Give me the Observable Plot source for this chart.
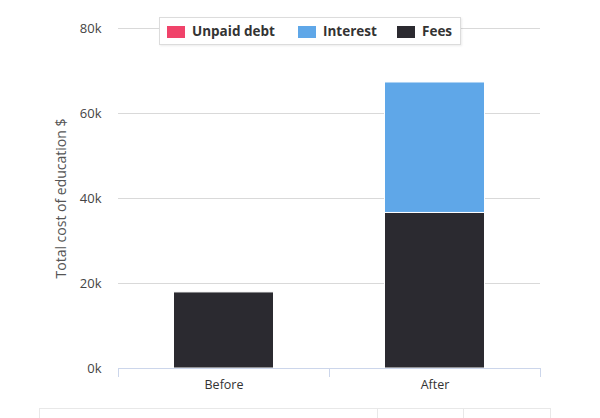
<!DOCTYPE html>
<html>
<head>
<meta charset="utf-8">
<script src="https://cdn.jsdelivr.net/npm/d3@7"></script>
<script src="https://cdn.jsdelivr.net/npm/@observablehq/plot@0.6"></script>
<style>
  html, body { margin: 0; padding: 0; background: #fff; }
  #wrap { position: relative; width: 600px; height: 418px; overflow: hidden; font-family: "Open Sans", sans-serif; }
  #legend { position: absolute; left: 159px; top: 17px; width: 302px; height: 28px; background: #fff;
    border: 1px solid #dcdcdc; box-shadow: 1px 1px 2px rgba(0,0,0,0.08); box-sizing: border-box;
    font-size: 13.5px; font-weight: bold; color: #333; }
  .sw { position: absolute; top: 8px; width: 18px; height: 12px; }
  .lt { position: absolute; top: 4px; line-height: 18px; white-space: nowrap; }
  #table { position: absolute; left: 39px; top: 408px; width: 512px; height: 20px; box-sizing: border-box;
    border-top: 1px solid #e8e8e8; border-left: 1px solid #e8e8e8; border-right: 1px solid #e8e8e8; display: flex; }
  #table div { box-sizing: border-box; height: 100%; }
</style>
</head>
<body>
<div id="wrap">
  <div id="chart"></div>
  <div id="legend"></div>
  <div id="table"><div style="width:338px;border-right:1px solid #e8e8e8"></div><div style="width:86px;border-right:1px solid #e8e8e8"></div><div style="flex:1"></div></div>
</div>
<script>
const categories = ["Before", "After"];
const series = ["Unpaid debt", "Interest", "Fees"];
const colors = ["#f0436a", "#5fa7e8", "#2b2a30"];
const fees = [17900, 36600];
const interest = [0, 30700];
const unpaidDebt = [0, 0];
const yTicks = [0, 20000, 40000, 60000, 80000];

// stacking order: Fees (bottom), Interest, Unpaid debt (top)
const rows = [];
categories.forEach((c, i) => rows.push({category: c, series: "Fees", value: fees[i]}));
categories.forEach((c, i) => rows.push({category: c, series: "Interest", value: interest[i]}));
categories.forEach((c, i) => rows.push({category: c, series: "Unpaid debt", value: unpaidDebt[i]}));

const marginLeft = 118, marginRight = 60, width = 600;
const step = (width - marginLeft - marginRight) / categories.length;

const chart = Plot.plot({
  width: 600,
  height: 400,
  marginTop: 28,
  marginBottom: 32,
  marginLeft,
  marginRight,
  style: {fontFamily: "Open Sans, sans-serif", fontSize: "12px", background: "#fff"},
  x: {domain: categories, padding: 0, label: null},
  y: {domain: [0, 80000], label: null},
  color: {domain: series, range: colors},
  marks: [
    Plot.gridY(yTicks, {stroke: "#d9d9d9", strokeOpacity: 1}),
    Plot.barY(rows.filter(d => d.value > 0), {
      x: "category", y: "value", fill: "series",
      insetLeft: (step - 100) / 2, insetRight: (step - 100) / 2,
      stroke: "#fff", strokeWidth: 1
    }),
    Plot.ruleY([0], {stroke: "#ccd6eb"}),
    Plot.ruleX(categories, {x: d => d, y1: 0, y2: 0, dx: -step / 2, insetBottom: -9, stroke: "#ccd6eb"}),
    Plot.ruleX(categories.slice(-1), {x: d => d, y1: 0, y2: 0, dx: step / 2, insetBottom: -9, stroke: "#ccd6eb"}),
    Plot.axisX({tickSize: 0, tickPadding: 12, fill: "#333", fontSize: 12.5}),
    Plot.axisY(yTicks, {tickSize: 0, tickPadding: 17, tickFormat: d => d / 1000 + "k", fill: "#444", fontSize: 13}),
    Plot.axisY({ticks: [], label: "Total cost of education $", labelAnchor: "center", labelArrow: "none",
      labelOffset: 62, fontSize: 14, fill: "#555"})
  ]
});
document.getElementById("chart").appendChild(chart);

const legend = document.getElementById("legend");
const swatchX = [7, 138, 237];
series.forEach((s, i) => {
  const sw = document.createElement("span");
  sw.className = "sw";
  sw.style.left = swatchX[i] + "px";
  sw.style.background = colors[i];
  const t = document.createElement("span");
  t.className = "lt";
  t.style.left = (swatchX[i] + 25) + "px";
  t.textContent = s;
  legend.appendChild(sw);
  legend.appendChild(t);
});
</script>
</body>
</html>
